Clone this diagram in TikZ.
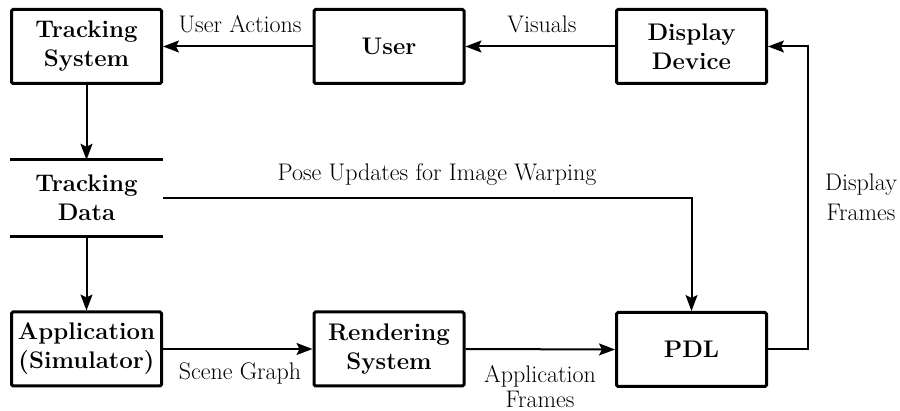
\documentclass[tikz,border=0pt]{standalone}
\usetikzlibrary{arrows.meta}
\begin{document}
\begin{tikzpicture}[x=1pt,y=-1pt,
  block/.style={draw, line width=3pt, rounded corners=1.5pt,
    minimum width=150pt, minimum height=74pt, inner sep=0pt, align=center,
    font=\fontsize{24}{29}\selectfont\bfseries},
  store/.style={minimum width=153pt, minimum height=76pt, inner sep=0pt,
    align=center, font=\fontsize{24}{29}\selectfont\bfseries},
  lbl/.style={inner sep=0pt, align=center,
    font=\fontsize{24}{27}\selectfont},
  conn/.style={line width=2pt, -{Stealth[length=16pt,width=12pt,inset=3pt]}},
  bar/.style={line width=3pt}]
\useasboundingbox (0,0) rectangle (900,411);

% blocks
\node[block] (ts)  at (86.5,46.5) {Tracking\\System};
\node[block] (us)  at (389,46.5)  {User};
\node[block] (dd)  at (691.5,46.5) {Display\\Device};
\node[block] (app) at (86.5,349)  {Application\\(Simulator)};
\node[block] (rs)  at (389,349)   {Rendering\\System};
\node[block] (pdl) at (691.5,349.5) {PDL};

% data store
\node[store] (td) at (86.5,198) {Tracking\\Data};
\draw[bar] (td.north west) -- (td.north east);
\draw[bar] (td.south west) -- (td.south east);

% connectors
\draw[conn] (us.west) -- (ts.east);
\draw[conn] (dd.west) -- (us.east);
\draw[conn] (ts.south) -- (td.north);
\draw[conn] (td.south) -- (app.north);
\draw[conn] (app.east) -- (rs.west);
\draw[conn] (rs.east) -- (pdl.west);
\draw[conn] (td.east) -| (pdl.north);
\draw[conn] (pdl.east) -- ++(39.5,0) |- (dd.east);

% connector labels
\node[lbl] (lua) at (240,24)  {User Actions};
\node[lbl] (lvi) at (542,24)  {Visuals};
\node[lbl] (lpu) at (437,175) {Pose Updates for Image Warping};
\node[lbl] (lsg) at (240,373) {Scene Graph};
\node[lbl] (laf) at (540,387) {Application\\[-2pt]Frames};
\node[lbl] (ldf) at (861,197) {Display\\[3pt]Frames};
\end{tikzpicture}
\end{document}
